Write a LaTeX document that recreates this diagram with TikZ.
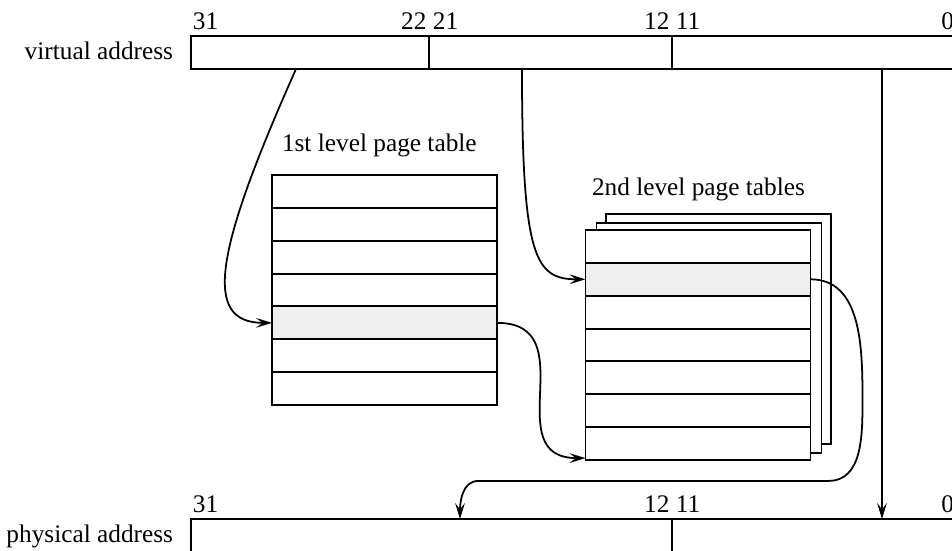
\documentclass[tikz,border=0pt]{standalone}
\usepackage{fontspec}
\setmainfont{Liberation Serif}
\usetikzlibrary{arrows.meta,positioning}
\definecolor{rowfill}{HTML}{EFEFEF}

\begin{document}
\begin{tikzpicture}[scale=0.2,
  field/.style={draw, line width=0.9pt, minimum height=0.66cm},
  pte/.style={draw, line width=1.1pt, fill=white, minimum width=4.5cm, minimum height=0.657cm},
  sheet/.style={draw, line width=1.1pt, fill=white, minimum width=4.5cm, minimum height=4.6cm},
  txt/.style={font=\fontsize{14.4}{17}\selectfont},
  link/.style={-{Stealth[length=9pt,width=5.5pt,inset=3.5pt]}, line width=1pt}]
\tikzstyle{every node}+=[inner sep=0pt, outer sep=0pt]
\useasboundingbox (0,0) rectangle (95.2,-55);
% virtual address
\node [field, minimum width=4.76cm] (va1) at (31.0,-5.25) {};
\node [field, minimum width=4.86cm] (va2) at (55.05,-5.25) {};
\node [field, minimum width=5.69cm] (va3) at (81.425,-5.25) {};
\node [txt, anchor=base east] (vname) at (17.3,-5.95) {virtual address};
\node [txt, above right=0.13cm and 0.04cm of va1.north west] (v31) {31};
\node [txt, above left=0.13cm and 0.05cm of va1.north east] (v22) {22};
\node [txt, above right=0.13cm and 0.08cm of va2.north west] (v21) {21};
\node [txt, above left=0.13cm and 0.05cm of va2.north east] (v12) {12};
\node [txt, above right=0.13cm and 0.08cm of va3.north west] (v11) {11};
\node [txt, above left=0.13cm and 0.05cm of va3.north east] (v0) {0};
% physical address
\node [field, minimum width=9.62cm] (pa1) at (43.15,-53.55) {};
\node [field, minimum width=5.69cm] (pa2) at (81.425,-53.55) {};
\node [txt, anchor=base east] (pname) at (17.3,-54.2) {physical address};
\node [txt, above right=0.13cm and 0.04cm of pa1.north west] (p31) {31};
\node [txt, above left=0.13cm and 0.05cm of pa1.north east] (p12) {12};
\node [txt, above right=0.13cm and 0.08cm of pa2.north west] (p11) {11};
\node [txt, above left=0.13cm and 0.05cm of pa2.north east] (p0) {0};
% 1st level page table
\node [txt, anchor=base west] (pt1name) at (28.2,-15.17) {1st level page table};
\foreach \i/\c in {1/white,2/white,3/white,4/white,5/rowfill,6/white,7/white}
  \node [pte, fill=\c] (pta\i) at (38.45,{-17.5-3.286*(\i-0.5)}) {};
% 2nd level page tables
\node [txt, anchor=base west] (pt2name) at (59.2,-19.5) {2nd level page tables};
\node [sheet] (ptbback2) at (71.85,-32.9) {};
\node [sheet] (ptbback1) at (70.9,-33.8) {};
\foreach \i/\c in {1/white,2/rowfill,3/white,4/white,5/white,6/white,7/white}
  \node [pte, fill=\c] (ptb\i) at (69.8,{-23.0-3.286*(\i-0.5)}) {};
% connectors (shifts are scaled by 0.2)
\draw [link] ([xshift=-1.4cm]va1.south) .. controls +(-114:20) and +(-7,0) .. (pta5.west);
\draw [link] ([xshift=-2.85cm]va2.south) .. controls +(0,-19) and +(-5,0) .. (ptb2.west);
\draw [link] (pta5.east) .. controls +(8.9,0) and +(-8.9,0) .. ([yshift=-1.45cm]ptb7.west);
\draw [link] (ptb2.east) to[out=0,in=90] ++(5.2,-12.0) to[out=-90,in=0] ++(-3.4,-8.16)
  -- ++(-35,0) to[out=180,in=90] ([xshift=2.85cm]pa1.north);
\draw [link] ([xshift=6.775cm]va3.south) -- ([xshift=6.775cm]pa2.north);
\end{tikzpicture}
\end{document}
